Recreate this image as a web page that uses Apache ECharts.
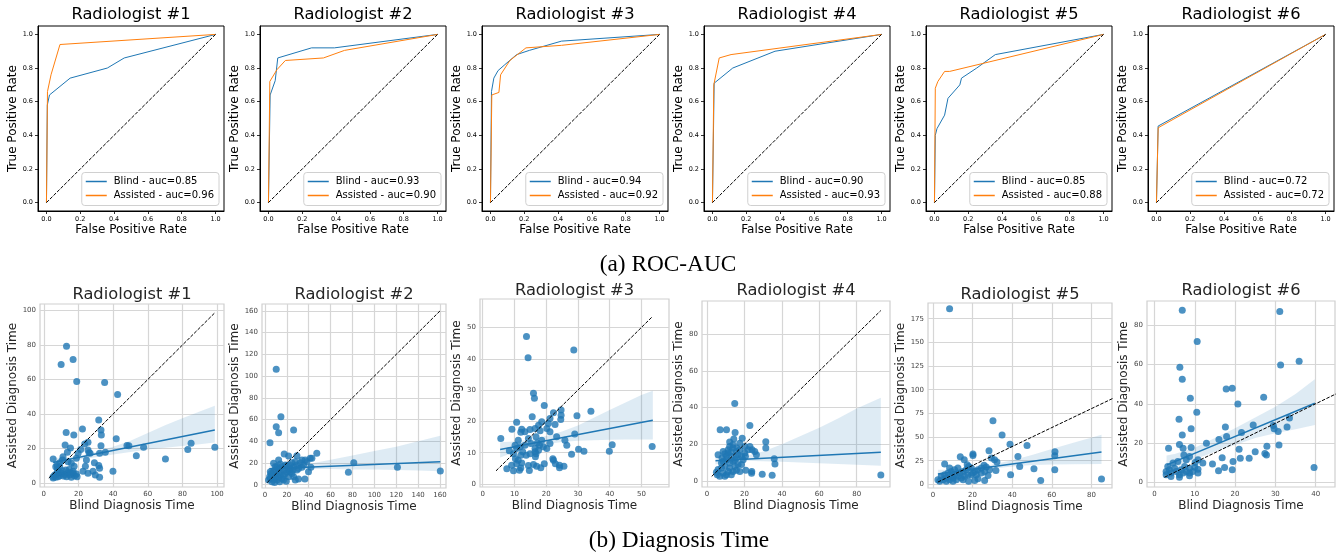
<!DOCTYPE html>
<html><head><meta charset="utf-8">
<script src="https://cdn.jsdelivr.net/npm/echarts@6/dist/echarts.min.js"></script>
<style>html,body{margin:0;padding:0;background:#fff}#c{width:1336px;height:557px}</style>
</head><body><div id="c"></div>
<script>
// ---------------- DATA ----------------
const panelTitles = ['Radiologist #1','Radiologist #2','Radiologist #3','Radiologist #4','Radiologist #5','Radiologist #6'];
const captionA = '(a) ROC-AUC';
const captionB = '(b) Diagnosis Time';
const blindAuc = [0.85, 0.93, 0.94, 0.90, 0.85, 0.72];
const assistedAuc = [0.96, 0.90, 0.92, 0.93, 0.88, 0.72];
const rocTicks = [0, 0.2, 0.4, 0.6, 0.8, 1.0];
const rocDiagonal = [[0,0],[1,1]];

const blindRoc1 = [[0,0],[0.005,0.58],[0.018,0.64],[0.14,0.74],[0.36,0.80],[0.46,0.86],[1,1]];
const assistedRoc1 = [[0,0],[0.006,0.66],[0.027,0.76],[0.08,0.94],[1,1]];
const blindRoc2 = [[0,0],[0.01,0.64],[0.04,0.725],[0.055,0.86],[0.255,0.92],[0.39,0.92],[1,1]];
const assistedRoc2 = [[0,0],[0.008,0.72],[0.05,0.79],[0.1,0.845],[0.325,0.86],[0.45,0.905],[1,1]];
const blindRoc3 = [[0,0],[0.006,0.66],[0.02,0.74],[0.045,0.785],[0.085,0.82],[0.155,0.88],[0.23,0.905],[0.42,0.96],[1,1]];
const assistedRoc3 = [[0,0],[0.008,0.64],[0.05,0.655],[0.06,0.76],[0.115,0.845],[0.21,0.92],[0.42,0.935],[1,1]];
const blindRoc4 = [[0,0],[0.01,0.71],[0.02,0.72],[0.12,0.80],[0.37,0.90],[1,1]];
const assistedRoc4 = [[0,0],[0.008,0.70],[0.04,0.86],[0.11,0.88],[1,1]];
const blindRoc5 = [[0,0],[0.005,0.40],[0.015,0.44],[0.06,0.52],[0.08,0.62],[0.15,0.70],[0.16,0.74],[0.25,0.80],[0.36,0.88],[1,1]];
const assistedRoc5 = [[0,0],[0.005,0.68],[0.02,0.72],[0.06,0.78],[0.09,0.78],[1,1]];
const blindRoc6 = [[0,0],[0.01,0.455],[1,1]];
const assistedRoc6 = [[0,0],[0.01,0.445],[1,1]];

// [blind time, assisted time]
const times1 = [[13.1,79.3],[16.9,71.6],[10.0,68.7],[19.0,58.9],[35.1,58.3],[42.6,51.4],[31.7,36.5],[22.3,31.3],[33.0,30.7],[12.9,29.3],[17.3,27.8],[33.2,27.8],[41.8,25.7],[25.5,23.7],[23.6,22.6],[12.3,22.0],[33.0,21.6],[48.0,21.8],[49.1,21.6],[57.6,20.7],[85.0,23.0],[83.1,19.5],[98.7,20.7],[53.4,15.8],[70.2,13.9],[35.5,17.8],[32.2,17.2],[15.4,20.3],[13.6,17.8],[11.1,15.3],[5.4,13.9],[19.8,17.2],[21.3,19.5],[25.5,19.1],[26.1,17.6],[26.7,17.2],[18.8,14.3],[24.6,13.3],[14.0,12.4],[15.9,11.4],[17.5,9.8],[24.0,9.8],[29.2,11.8],[31.7,10.2],[32.2,8.5],[22.6,6.9],[28.4,6.9],[25.5,5.6],[29.7,4.6],[32.2,3.3],[39.9,6.9],[7.7,10.2],[9.2,9.5],[10.7,13.3],[9.2,11.8],[6.9,9.5],[5.4,3.7],[6.3,4.6],[7.3,5.2],[8.3,3.7],[9.2,4.4],[10.2,5.6],[11.3,4.1],[12.1,5.0],[13.1,3.7],[14.0,6.0],[15.0,4.6],[15.9,3.3],[16.9,5.6],[17.9,4.2],[18.8,5.2],[5.4,2.9],[6.9,3.3],[8.8,6.6],[10.7,7.1],[12.7,7.5],[14.6,7.9],[16.9,6.9],[19.2,3.7],[7.9,7.9],[15.4,6.0]];
const times2 = [[10.3,106.3],[14.6,62.7],[10.3,53.4],[12.5,47.9],[26.2,50.4],[4.6,38.7],[81.2,20.3],[76.3,11.4],[121.1,16.0],[160.3,12.6],[47.4,28.9],[41.4,24.3],[42.9,24.3],[39.8,12.0],[42,16],[36.5,5.2],[30.7,5.2],[19.5,3.1],[17.6,28.3],[21.6,26.4],[29.2,26.7],[12.5,22.7],[7.9,19.7],[9.4,16.6],[33.8,22.7],[27.7,21.2],[32.2,20.3],[24.6,20.3],[26.2,16.6],[29.2,18.1],[23.1,15.0],[20.1,17.8],[17.0,13.5],[14.0,12.0],[4.9,12.0],[6.4,8.9],[26.2,7.4],[27.7,4.3],[21.6,7.4],[3.3,4.3],[4.9,5.8],[6.4,2.8],[7.9,4.9],[9.4,7.4],[11,4.3],[12.5,6.8],[14,8.9],[15.5,5.8],[17,8.0],[18.6,10.4],[20.1,12.0],[21.6,13.5],[11,10.4],[7.9,12.0],[9.4,13.5],[12.5,15.0],[15.5,16.6],[18.6,18.1],[14,19.0],[11,16.6],[7.3,7.4],[4.3,7.4],[5.5,10.4],[23.1,12.0],[24.6,10.4],[29.2,13.5],[30.7,15.0],[33.8,16.0],[35.3,18.1],[36.8,22.7],[38.3,21.2],[22.5,18.1],[25.5,13.5],[17,4.3],[13.4,2.8],[8.8,2.0]];
const times3 = [[13.8,47.1],[14.3,40.3],[28.7,42.8],[16.0,29.0],[16.3,27.4],[19.4,25.1],[5.7,14.5],[15.6,21.5],[10.7,19.7],[9.2,17.5],[12.3,17.5],[12.0,16.5],[14.9,17.4],[16.5,17.7],[17.6,18.8],[18.6,19.9],[20.7,19.3],[21.2,20.9],[22.3,22.8],[22.8,19.0],[24.7,23.6],[24.7,22.0],[24.6,20.6],[29.7,21.8],[34.1,23.2],[29.0,16.0],[23.3,15.1],[25.9,14.0],[26.5,12.4],[30.2,11.1],[31.9,10.5],[28.0,9.5],[40.8,12.5],[39.9,10.5],[53.4,12.0],[21.2,16.7],[20.2,17.7],[18.1,17.0],[16.8,15.1],[17.2,13.1],[17.9,12.4],[18.6,14.0],[19.1,11.9],[21.2,12.9],[20.2,11.3],[16.5,11.3],[16.5,10.3],[14.9,9.7],[13.7,9.2],[12.0,9.2],[12.6,10.3],[14.4,14.5],[13.3,12.4],[11.8,11.9],[10.7,11.3],[9.7,9.7],[10.3,8.1],[11.2,7.6],[10.7,6.5],[12.3,6.7],[9.1,6.0],[7.6,4.9],[9.7,4.2],[11.6,4.4],[12.0,5.1],[14.7,4.3],[14.4,5.9],[16.0,6.2],[17.0,5.7],[18.3,5.2],[19.4,6.5],[22.1,8.1],[22.3,7.6],[22.9,6.5],[24.2,6.0],[24.2,5.2],[25.6,5.7],[16.8,9.7],[16.6,8.7],[13.3,16.7],[11.2,14.0],[10.2,12.4],[8.4,10.6],[17.6,10.8],[15.2,12.9]];
const times4 = [[14.8,42.2],[22.9,30.2],[7.0,27.9],[10.4,27.9],[15.0,26.4],[18.8,23.3],[14.3,22.8],[12.1,21.2],[31.4,21.4],[31.4,17.9],[24.1,17.0],[25.5,16.1],[22.9,18.8],[20.2,18.8],[26.4,14.3],[35.9,12.1],[36.3,9.2],[20.7,5.8],[23.9,5.2],[23.8,4.2],[29.5,3.6],[34.8,3.1],[92.9,3.3],[5.9,14.3],[8.6,16.1],[9.5,14.8],[11.3,17.0],[12.1,18.8],[13.0,15.6],[13.9,17.9],[15.7,16.1],[16.6,14.3],[17.5,17.0],[18.4,13.4],[19.3,11.6],[20.5,13.4],[15.7,12.5],[13.9,10.7],[12.1,9.8],[10.4,11.6],[8.6,10.7],[9.5,8.0],[7.7,7.1],[5.9,6.2],[5.5,3.4],[6.8,2.5],[8.6,4.3],[10.4,3.4],[11.3,5.2],[13.0,3.4],[13.9,5.2],[15.7,5.8],[12.1,7.1],[15.0,8.0],[16.6,8.9],[10.4,13.4],[8.0,12.5],[11.3,15.2],[13.9,19.7],[17.5,20.6],[15.9,17.9],[5.0,4.7],[9.5,2.5],[17.5,5.2],[18.4,8.9],[20.2,15.2],[22.0,17.0],[7.7,9.8],[13.0,13.4],[14.8,11.6]];
const times5 = [[8.4,185.6],[30.3,67.3],[34.9,52.1],[38.9,42.3],[47.5,41.2],[61.6,34.5],[61.5,30.3],[42.9,29.6],[28.3,35.6],[20.2,32.0],[20.2,30.6],[13.8,29.2],[15.8,26.1],[29.5,27.8],[31.1,26.1],[32.3,23.6],[25.8,20.1],[17.3,20.8],[18.0,19.0],[5.9,21.5],[51.0,16.5],[43.8,19.0],[61.5,15.5],[31.8,14.8],[39.2,10.2],[54.4,4.2],[85.1,5.6],[26.1,4.2],[27.8,9.5],[22.7,6.0],[21.1,4.2],[18.0,3.2],[19.4,10.2],[21.1,13.7],[22.7,15.5],[24.4,17.3],[26.9,18.3],[28.6,15.5],[19.4,17.3],[16.8,15.5],[15.2,13.7],[13.5,12.0],[12.6,17.3],[10.9,15.5],[9.3,13.7],[8.4,17.3],[7.6,12.0],[5.9,10.2],[4.2,8.5],[2.5,4.9],[3.4,3.2],[5.1,4.9],[6.7,6.7],[8.4,4.9],[10.1,6.7],[11.8,4.9],[12.6,8.5],[14.3,6.7],[16.0,8.5],[17.7,10.2],[10.9,10.2],[9.3,8.5],[6.7,3.2],[10.1,3.2],[15.2,4.9],[24.4,12.0],[21.9,10.2],[20.2,12.0],[26.1,13.7]];
const times6 = [[6.9,87.8],[31.1,87.1],[10.6,71.8],[6.3,58.6],[6.9,52.5],[35.9,61.7],[31.3,59.8],[8.9,42.8],[17.8,47.6],[19.3,47.9],[27.1,43.3],[20.7,39.9],[10.5,35.7],[6.1,32.1],[9.1,27.3],[6.9,24.1],[17.6,28.2],[17.9,23.3],[21.6,25.3],[24.5,29.2],[29.5,28.9],[29.7,27.3],[30.7,25.8],[32.9,28.2],[33.5,32.8],[3.5,17.3],[6.2,19.2],[7.1,17.3],[9.1,17.7],[12.9,19.9],[16.0,21.7],[21.0,16.8],[27.9,18.3],[27.4,14.6],[25.0,15.5],[27.8,13.9],[30.9,19.0],[23.5,12.2],[21.3,12.2],[16.8,12.4],[19.5,10.5],[19.3,6.3],[17.4,7.5],[15.9,5.8],[14.4,9.2],[12.0,9.7],[10.8,11.4],[10.8,6.6],[10.8,4.6],[10.0,7.6],[39.6,7.5],[7.9,11.4],[8.7,13.1],[7.3,13.9],[5.8,10.5],[4.6,9.7],[3.3,8.0],[2.9,5.4],[2.9,3.7],[4.1,4.6],[5.4,5.4],[6.2,3.7],[7.1,4.6],[7.9,5.4],[8.7,4.6],[9.5,5.4],[8.7,7.1],[7.5,8.0],[6.6,6.3],[5.0,7.1],[4.1,2.9],[6.2,2.5],[8.7,3.2],[3.7,6.3],[10.1,10.0]];

// regression fit endpoints [x, y]
const fit1 = [[5.4,11.9],[98.7,30.7]];
const fit2 = [[4.0,14.8],[160.3,21.2]];
const fit3 = [[5.5,11.0],[53.6,20.4]];
const fit4 = [[4.5,11.0],[92.9,15.6]];
const fit5 = [[2.5,10.9],[85.1,34.2]];
const fit6 = [[3.1,8.8],[39.8,40.3]];
// confidence band [x, lower, upper]
const ci1 = [[5.4,9.5,14.5],[15,12.5,15],[20,13.5,15.5],[30,15,18],[40,16.5,21],[50,18,24.5],[60,19.5,29],[70,20.5,33.5],[80,21.5,37.5],[90,22.5,41.5],[98.7,23.5,44.8]];
const ci2 = [[4,12.5,17],[20,14.5,16.5],[40,14.5,19],[60,14.5,23],[80,14,27],[100,14,31],[120,13.5,35],[140,13,40],[160.3,12.5,45]];
const ci3 = [[5.5,8.5,13.3],[10,10.2,13.6],[15,11.8,14.2],[20,12.7,15.3],[25,13.4,16.8],[30,13.8,18.7],[35,14.0,21.2],[40,14.1,23.6],[45,14.2,26],[50,14.2,28.4],[53.6,14.2,29.8]];
const ci4 = [[4.5,9.0,13.2],[10,10.2,12.8],[15,10.8,13],[20,11,13.5],[30,10.8,16],[40,10.5,20],[50,10,24.5],[60,9.7,29],[70,9.2,34],[80,8.8,39.5],[92.9,8.3,45.4]];
const ci5 = [[2.5,6.5,15.5],[10,10,15.5],[20,13.5,17.5],[30,16.5,21],[40,19,25.5],[50,20.5,31],[60,21,37.5],[70,21.3,43.5],[85.1,21.5,52.5]];
const ci6 = [[3,5.4,13.6],[5,7.3,14.4],[10,11.5,17.5],[15,15.5,22.5],[20,19,27.5],[25,22.5,33],[30,25,38.5],[35,27,45],[39.8,29.2,52.5]];

const xTicks1 = [0,20,40,60,80,100], yTicks1 = [0,20,40,60,80,100];
const xTicks2 = [0,20,40,60,80,100,120,140,160], yTicks2 = [0,20,40,60,80,100,120,140,160];
const xTicks3 = [0,10,20,30,40,50], yTicks3 = [0,10,20,30,40,50];
const xTicks4 = [0,20,40,60,80], yTicks4 = [0,20,40,60,80];
const xTicks5 = [0,20,40,60,80], yTicks5 = [0,25,50,75,100,125,150,175];
const xTicks6 = [0,10,20,30,40], yTicks6 = [0,20,40,60,80];

// ---------------- LAYOUT / STYLE ----------------
const FONT = 'DejaVu Sans';
const rocBlind = [blindRoc1, blindRoc2, blindRoc3, blindRoc4, blindRoc5, blindRoc6];
const rocAssisted = [assistedRoc1, assistedRoc2, assistedRoc3, assistedRoc4, assistedRoc5, assistedRoc6];
const timesAll = [times1, times2, times3, times4, times5, times6];
const fitsAll = [fit1, fit2, fit3, fit4, fit5, fit6];
const ciAll = [ci1, ci2, ci3, ci4, ci5, ci6];
const xTicksAll = [xTicks1, xTicks2, xTicks3, xTicks4, xTicks5, xTicks6];
const yTicksAll = [yTicks1, yTicks2, yTicks3, yTicks4, yTicks5, yTicks6];

const rocLeft = [38, 260, 482, 704, 926, 1148];
const rocTop = 26, rocW = 186, rocH = 185;
const scBox = [[40,304,224,487],[262,304,446,488],[480,299,669,487],[702,301,890,487],[928,303,1112,488],[1147,301,1335,487]];
const scRange = [[-2.2,104,-2.3,103.8],[-2.7,165.5,-3,166.4],[-0.85,58.7,-0.96,59.1],[-2.7,97.8,-3.3,98.1],[-2.5,90.4,-3.8,191.6],[-1.85,44.8,-2.5,92.5]];
const scYNameGap = [20,19,16,14,20,16];
const scTitleY = [295,295,290.7,290.7,295,290.7];

const BLUE = '#1f77b4', ORANGE = '#ff7f0e';
const grids = [], xAxes = [], yAxes = [], series = [], titles = [], legends = [];

const blindName = i => 'Blind - auc=' + blindAuc[i].toFixed(2);
const assistedName = i => 'Assisted - auc=' + assistedAuc[i].toFixed(2);

// ROC panels
for (let i = 0; i < 6; i++) {
  const L = rocLeft[i];
  grids.push({left: L, top: rocTop, width: rocW, height: rocH, show: true, borderColor: '#000', borderWidth: 1, containLabel: false});
  const axCommon = (name, gap, isY) => ({
    gridIndex: i, type: 'value', min: -0.05, max: 1.05,
    name: name, nameLocation: 'middle', nameGap: gap,
    nameTextStyle: {fontFamily: FONT, fontSize: 12, color: '#000'},
    axisLine: {show: true, onZero: false, lineStyle: {color: '#000', width: 1}},
    axisTick: {show: true, length: 3, customValues: rocTicks, lineStyle: {color: '#000', width: 0.8}},
    axisLabel: {customValues: rocTicks, formatter: v => v.toFixed(1), fontFamily: FONT, fontSize: 6.5, color: '#000', margin: isY ? 5 : 5},
    splitLine: {show: false}
  });
  xAxes.push(axCommon('False Positive Rate', 12, false));
  yAxes.push(axCommon('True Positive Rate', 18, true));
  series.push({type: 'line', name: blindName(i), xAxisIndex: i, yAxisIndex: i, data: rocBlind[i], symbol: 'none', color: BLUE, lineStyle: {width: 1, color: BLUE}, z: 3});
  series.push({type: 'line', name: assistedName(i), xAxisIndex: i, yAxisIndex: i, data: rocAssisted[i], symbol: 'none', color: ORANGE, lineStyle: {width: 1, color: ORANGE}, z: 3});
  series.push({type: 'line', name: 'diag' + i, xAxisIndex: i, yAxisIndex: i, data: rocDiagonal, symbol: 'none', lineStyle: {width: 1, color: '#000', type: [3.5, 1.5]}, z: 4});
  titles.push({text: panelTitles[i], left: L + rocW / 2, top: 15, textAlign: 'center', textVerticalAlign: 'middle', padding: 0,
    textStyle: {fontFamily: FONT, fontSize: 16.3, fontWeight: 'normal', color: '#000'}});
  legends.push({data: [blindName(i), assistedName(i)], orient: 'vertical', right: 1336 - (L + rocW - 5), top: 172.5,
    icon: 'rect', itemWidth: 21, itemHeight: 1.5, itemGap: 2, padding: [3, 5, 4, 4],
    backgroundColor: 'rgba(255,255,255,0.85)', borderColor: '#d0d0d0', borderWidth: 1, borderRadius: 3,
    textStyle: {fontFamily: FONT, fontSize: 10, color: '#000', lineHeight: 12, padding: [0, 0, 0, 2]},
    selectedMode: false});
}

// Scatter panels
for (let i = 0; i < 6; i++) {
  const gi = 6 + i;
  const [l, t, r, b] = scBox[i];
  const [xmin, xmax, ymin, ymax] = scRange[i];
  grids.push({left: l, top: t, width: r - l, height: b - t, show: true, borderColor: '#cfcfcf', borderWidth: 1.2, containLabel: false});
  const axS = (ticks, min, max, name, gap) => ({
    gridIndex: gi, type: 'value', min: min, max: max,
    name: name, nameLocation: 'middle', nameGap: gap,
    nameTextStyle: {fontFamily: FONT, fontSize: 12, color: '#262626'},
    axisLine: {show: false, onZero: false},
    axisTick: {show: false, customValues: ticks},
    axisLabel: {customValues: ticks, fontFamily: FONT, fontSize: 7, color: '#444', margin: 4, formatter: v => String(v)},
    splitLine: {show: true, lineStyle: {color: '#d6d6d6', width: 1.2}}
  });
  xAxes.push(axS(xTicksAll[i], xmin, xmax, 'Blind Diagnosis Time', 13));
  yAxes.push(axS(yTicksAll[i], ymin, ymax, 'Assisted Diagnosis Time', scYNameGap[i]));
  const pts = timesAll[i];
  const vals = pts.flat();
  const lo = Math.min(...vals), hi = Math.max(...vals);
  const band = ciAll[i];
  series.push({type: 'scatter', name: 'times' + i, xAxisIndex: gi, yAxisIndex: gi, data: pts, symbolSize: 7,
    itemStyle: {color: BLUE, opacity: 0.8}, z: 2});
  series.push({type: 'custom', name: 'ci' + i, xAxisIndex: gi, yAxisIndex: gi, data: band, encode: {x: 0, y: 1}, silent: true, z: 3,
    renderItem: (params, api) => {
      if (params.dataIndex !== 0) return null;
      const up = band.map(d => api.coord([d[0], d[2]]));
      const dn = band.map(d => api.coord([d[0], d[1]])).reverse();
      return {type: 'polygon', shape: {points: up.concat(dn)}, style: {fill: 'rgba(31,119,180,0.15)'}};
    }});
  series.push({type: 'line', name: 'fit' + i, xAxisIndex: gi, yAxisIndex: gi, data: fitsAll[i], symbol: 'none', lineStyle: {width: 1.5, color: BLUE}, z: 4});
  series.push({type: 'line', name: 'ident' + i, xAxisIndex: gi, yAxisIndex: gi, data: [[lo, lo], [hi, hi]], symbol: 'none', clip: true,
    lineStyle: {width: 1, color: '#000', type: [3.5, 1.5]}, z: 5});
  titles.push({text: panelTitles[i], left: (l + r) / 2, top: scTitleY[i], textAlign: 'center', textVerticalAlign: 'middle', padding: 0,
    textStyle: {fontFamily: FONT, fontSize: 16.3, fontWeight: 'normal', color: '#262626'}});
}

titles.push({text: captionA, left: 668, top: 265, textAlign: 'center', textVerticalAlign: 'middle', padding: 0,
  textStyle: {fontFamily: 'Liberation Serif', fontSize: 23.3, fontWeight: 'normal', color: '#000'}});
titles.push({text: captionB, left: 679, top: 541, textAlign: 'center', textVerticalAlign: 'middle', padding: 0,
  textStyle: {fontFamily: 'Liberation Serif', fontSize: 23.3, fontWeight: 'normal', color: '#000'}});

const chart = echarts.init(document.getElementById('c'), null, {renderer: 'canvas'});
chart.setOption({
  animation: false,
  backgroundColor: '#fff',
  title: titles,
  legend: legends,
  grid: grids,
  xAxis: xAxes,
  yAxis: yAxes,
  series: series
});
</script></body></html>
